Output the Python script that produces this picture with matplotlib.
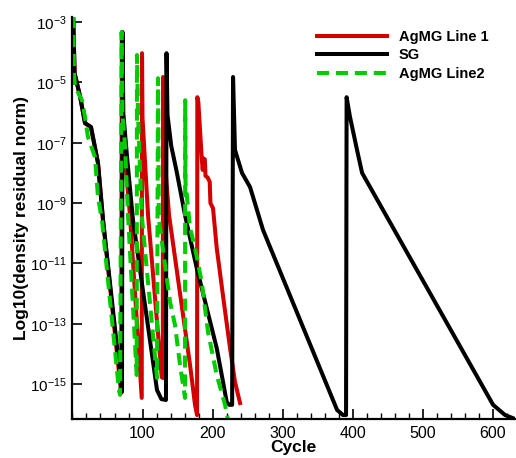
import numpy as np
import matplotlib.pyplot as plt
from matplotlib.ticker import MultipleLocator, NullLocator

plt.rcParams['font.family'] = ['Liberation Sans', 'DejaVu Sans']
plt.rcParams['mathtext.fontset'] = 'custom'
plt.rcParams['mathtext.rm'] = 'Liberation Sans'
plt.rcParams['mathtext.it'] = 'Liberation Sans'
plt.rcParams['mathtext.default'] = 'regular'

# cycle number and log10 of the density residual norm
sg_cycle = [1, 3, 10.7, 17.9, 26.4, 36.4, 43.6, 70.7,
            71.5, 72.6, 77.9, 86.4, 120.7, 127, 133.5,
            134.3, 135.7, 141, 148.9, 160.7, 177.4, 191.7, 206, 215, 220.3, 224, 228,
            229.3, 232.1, 242.1, 253.6, 272.1, 377.9, 386.4, 390.7,
            391.5, 396.4, 406.4, 413.6, 600.7, 617.9, 632]
sg_log = [-2.8, -4.69, -5.45, -6.35, -6.48, -7.67, -9.56, -15.26,
          -3.33, -6.02, -7.47, -9.56, -15.2, -15.5, -15.53,
          -4.03, -6.08, -7.1, -7.97, -9.4, -11.15, -12.48, -13.81, -14.93, -15.6, -15.69, -15.69,
          -4.82, -7.24, -8.0, -8.47, -9.89, -15.86, -16.03, -16.03,
          -5.49, -6.15, -7.24, -8.0, -15.69, -16.03, -16.16]

agmg1_cycle = [1, 3, 10.7, 17.9, 26.4, 36.4, 43.6, 69.5,
               70.5, 71.5, 75, 82.1, 98.9,
               99.3, 100, 107.9, 127.4, 129,
               129.3, 130.7, 137.9, 157.9, 167.9, 175, 177.9,
               178.3, 179.7, 184.6, 186, 187, 189, 190, 193, 196, 197, 200.7, 206,
               215.4, 225, 232.1, 239.3]
agmg1_log = [-2.8, -4.69, -5.45, -6.35, -6.48, -7.67, -9.56, -15.3,
             -3.33, -6.02, -7.51, -9.4, -15.46,
             -4.03, -6.18, -9.4, -14.77, -14.8,
             -4.82, -7.24, -9.4, -12.71, -14.37, -15.69, -16.03,
             -5.49, -5.64, -7.52, -7.9, -7.52, -7.55, -8.1, -8.15, -8.3, -9.0, -9.17, -10.49,
             -12.15, -13.81, -14.93, -15.63]

agmg2_cycle = [1, 2.1, 3.6, 13.6, 17.9, 22.1, 32.1, 36.4, 42.1, 66.4, 67.9,
               70.3, 71.2, 75, 79.3, 91.7,
               92.1, 93.6, 98.9, 120.7,
               122.1, 123.3, 130.7, 139.3, 146.4, 153.6, 160.7,
               161, 161.4, 167.9, 175, 184.6, 193.6, 206, 217.9, 223]
agmg2_log = [-2.8, -4.69, -5.15, -5.59, -6.15, -6.81, -7.47, -8.8, -9.56, -15.2, -15.36,
             -3.33, -6.02, -7.08, -9.4, -14.7,
             -4.09, -6.08, -9.4, -14.8,
             -4.86, -9.5, -10.8, -12.28, -13.04, -14.37, -15.46,
             -5.59, -8.3, -9.83, -10.49, -11.62, -13.28, -14.7, -15.69, -16.3]

ytick_exp = [-3, -5, -7, -9, -11, -13, -15]
xticks = [100, 200, 300, 400, 500, 600]

fig = plt.figure(figsize=(5.16, 4.58), dpi=100)
ax = fig.add_axes([72 / 516, 39 / 458, 443 / 516, 402 / 458])

ax.semilogy(agmg1_cycle, 10.0 ** np.array(agmg1_log), color='#d40000', lw=2.9, label='AgMG Line 1')
ax.semilogy(sg_cycle, 10.0 ** np.array(sg_log), color='black', lw=2.9, label='SG')
ax.semilogy(agmg2_cycle, 10.0 ** np.array(agmg2_log), color='#00cc00', lw=2.9,
            dashes=(3, 1.7), label='AgMG Line2')

ax.set_xlim(-0.7, 632)
ax.set_ylim(10 ** -16.16, 10 ** -2.83)

ax.set_yticks([10.0 ** e for e in ytick_exp])
ax.set_yticklabels([r'$10^{%d}$' % e for e in ytick_exp])
ax.yaxis.set_minor_locator(NullLocator())
ax.set_xticks(xticks)
ax.xaxis.set_minor_locator(MultipleLocator(20))

for s in ['top', 'right']:
    ax.spines[s].set_visible(False)
for s in ['left', 'bottom']:
    ax.spines[s].set_linewidth(1.6)

ax.tick_params(axis='both', which='major', direction='in', length=7.5, width=1.2,
               labelsize=11, pad=4)
ax.tick_params(axis='x', which='minor', direction='in', length=4, width=1.0)
ax.tick_params(axis='x', which='major', labelsize=11.5, pad=5)

ax.set_xlabel('Cycle', fontsize=12.5, fontweight='bold')
ax.set_ylabel('Log10(density residual norm)', fontsize=12.5, fontweight='bold')
ax.xaxis.set_label_coords(0.5, -0.053)
ax.yaxis.set_label_coords(-0.097, 0.5)

ax.legend(loc='upper left', bbox_to_anchor=(317 / 516, 1 - 30 / 458),
          bbox_transform=fig.transFigure, frameon=False,
          prop={'weight': 'bold', 'size': 10.5}, handlelength=4.8,
          handletextpad=0.8, labelspacing=0.3, borderpad=0, borderaxespad=0)

fig.savefig('out.png', dpi=100)
